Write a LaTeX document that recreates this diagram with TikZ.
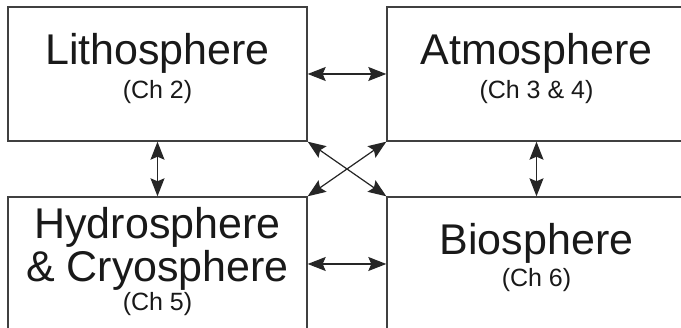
\documentclass[tikz,border=0pt]{standalone}
\usepackage{fontspec}
\setmainfont{Liberation Sans}
\usetikzlibrary{arrows.meta,positioning,calc}

\begin{document}
\begin{tikzpicture}[x=1pt, y=1pt,
  sphere/.style={rectangle, draw=black!75, line width=1.4pt, minimum width=299pt, minimum height=134pt, inner sep=0pt},
  title/.style={anchor=base, inner sep=0pt, font=\fontsize{43}{43}\selectfont, text=black!90},
  chap/.style={anchor=base, inner sep=0pt, font=\fontsize{25}{25}\selectfont, text=black!90},
  arrow/.style={{Stealth[length=18pt,width=14pt,inset=3pt]}-{Stealth[length=18pt,width=14pt,inset=3pt]}, line width=1.2pt, draw=black!85, fill=black!85}
]
\useasboundingbox (0,0) rectangle (681,328);
\clip (0,0) rectangle (681,328);

% boxes
\node[sphere] (litho) at (157.5,254) {};
\node[sphere] (atmo) [right=78.6pt of litho] {};
\node[sphere] (hydro) [below=54.6pt of litho] {};
\node[sphere] (bio) [below=54.6pt of atmo] {};

% labels
\node[title] (litho-t) at ([yshift=-58pt]litho.north) {Lithosphere};
\node[chap] (litho-c) at ([yshift=-92pt]litho.north) {(Ch 2)};
\node[title] (atmo-t) at ([yshift=-58pt]atmo.north) {Atmosphere};
\node[chap] (atmo-c) at ([yshift=-92pt]atmo.north) {(Ch 3 \& 4)};
\node[title] (hydro-t) at ([yshift=-42pt]hydro.north) {Hydrosphere};
\node[title] (cryo-t) at ([yshift=-85pt]hydro.north) {\& Cryosphere};
\node[chap] (hydro-c) at ([yshift=-114pt]hydro.north) {(Ch 5)};
\node[title] (bio-t) at ([yshift=-58pt]bio.north) {Biosphere};
\node[chap] (bio-c) at ([yshift=-90pt]bio.north) {(Ch 6)};

% interactions
\draw[arrow] (litho.east) -- (atmo.west);
\draw[arrow] (hydro.east) -- (bio.west);
\draw[arrow] (litho.south) -- (hydro.north);
\draw[arrow] (atmo.south) -- (bio.north);
\draw[arrow] (litho.south east) -- (bio.north west);
\draw[arrow] (atmo.south west) -- (hydro.north east);

\end{tikzpicture}
\end{document}
